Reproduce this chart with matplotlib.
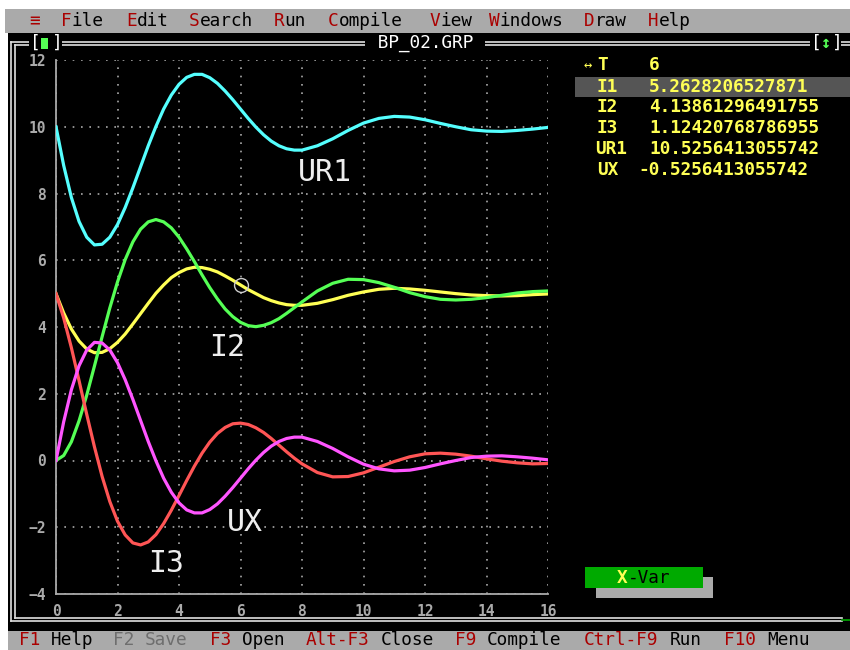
import matplotlib
matplotlib.use("Agg")
import matplotlib.pyplot as plt
from matplotlib.patches import Rectangle

# transient of the R1 / L || C network, sampled every 0.25 s up to 8 s, then every 0.5 s
t = [0.0, 0.25, 0.5, 0.75, 1.0, 1.25, 1.5, 1.75, 2.0, 2.25, 2.5, 2.75, 3.0,
     3.25, 3.5, 3.75, 4.0, 4.25, 4.5, 4.75, 5.0, 5.25, 5.5, 5.75, 6.0, 6.25,
     6.5, 6.75, 7.0, 7.25, 7.5, 7.75, 8.0, 8.5, 9.0, 9.5, 10.0, 10.5, 11.0,
     11.5, 12.0, 12.5, 13.0, 13.5, 14.0, 14.5, 15.0, 15.5, 16.0]

I1 = [5.00, 4.42, 3.94, 3.58, 3.34, 3.23, 3.24, 3.35, 3.54, 3.79, 4.09, 4.40,
      4.71, 5.01, 5.26, 5.48, 5.63, 5.74, 5.79, 5.78, 5.73, 5.65, 5.53, 5.40,
      5.26, 5.12, 5.00, 4.88, 4.79, 4.72, 4.67, 4.65, 4.65, 4.71, 4.82, 4.95,
      5.05, 5.13, 5.16, 5.14, 5.10, 5.05, 5.00, 4.96, 4.94, 4.93, 4.94, 4.97, 4.99]

I2 = [0.00, 0.15, 0.56, 1.19, 1.96, 2.83, 3.71, 4.57, 5.35, 6.02, 6.55, 6.93,
      7.15, 7.22, 7.15, 6.97, 6.69, 6.34, 5.96, 5.56, 5.18, 4.84, 4.54, 4.31,
      4.14, 4.04, 4.01, 4.05, 4.13, 4.25, 4.41, 4.58, 4.75, 5.08, 5.31, 5.43,
      5.42, 5.33, 5.19, 5.03, 4.91, 4.83, 4.81, 4.83, 4.88, 4.95, 5.02, 5.06, 5.08]

I3 = [5.00, 4.27, 3.38, 2.39, 1.38, 0.41, -0.48, -1.23, -1.82, -2.23, -2.47,
      -2.53, -2.44, -2.22, -1.89, -1.49, -1.05, -0.60, -0.17, 0.22, 0.55, 0.81,
      0.99, 1.10, 1.12, 1.08, 0.98, 0.84, 0.66, 0.46, 0.26, 0.07, -0.10, -0.36,
      -0.49, -0.48, -0.37, -0.20, -0.03, 0.11, 0.20, 0.22, 0.19, 0.13, 0.05,
      -0.02, -0.07, -0.10, -0.09]

UR1 = [10.00, 8.84, 7.88, 7.16, 6.69, 6.46, 6.48, 6.69, 7.07, 7.58, 8.17, 8.80,
       9.43, 10.01, 10.53, 10.95, 11.27, 11.48, 11.57, 11.57, 11.47, 11.30,
       11.07, 10.81, 10.53, 10.25, 9.99, 9.76, 9.57, 9.43, 9.34, 9.30, 9.30,
       9.43, 9.64, 9.89, 10.11, 10.25, 10.31, 10.29, 10.21, 10.10, 10.00, 9.91,
       9.87, 9.86, 9.89, 9.93, 9.98]

UX = [0.00, 1.16, 2.12, 2.84, 3.31, 3.54, 3.52, 3.31, 2.93, 2.42, 1.83, 1.20,
      0.57, -0.01, -0.53, -0.95, -1.27, -1.48, -1.57, -1.57, -1.47, -1.30, -1.07,
      -0.81, -0.53, -0.25, 0.01, 0.24, 0.43, 0.57, 0.66, 0.70, 0.70, 0.57, 0.36,
      0.11, -0.11, -0.25, -0.31, -0.29, -0.21, -0.10, 0.00, 0.09, 0.13, 0.14,
      0.11, 0.07, 0.02]

# cursor readout
cursor_t = 6
cursor_names = ["I1", "I2", "I3", "UR1", "UX"]
cursor_vals = ["5.2628206527871", "4.13861296491755", "1.12420768786955",
               "10.5256413055742", "-0.5256413055742"]

menu_items = ["File", "Edit", "Search", "Run", "Compile", "View", "Windows", "Draw", "Help"]
menu_x = [61, 126, 189, 274, 328, 430, 489, 584, 648]
status_keys = ["F1", "F2", "F3", "Alt-F3", "F9", "Ctrl-F9", "F10"]
status_words = ["Help", "Save", "Open", "Close", "Compile", "Run", "Menu"]
status_x = [19, 113, 210, 306, 455, 584, 724]

MONO = ["DejaVu Sans Mono", "DejaVu Sans"]
RED = "#aa0000"
GRAY = "#aaaaaa"
FRAME = "#e0e0e0"
CW = 10.75  # character cell width in pixels

W, H = 850, 650
fig = plt.figure(figsize=(8.5, 6.5), dpi=100, facecolor="white")

# screen layer in pixel coordinates
scr = fig.add_axes([0, 0, 1, 1])
scr.set_xlim(0, W)
scr.set_ylim(H, 0)
scr.axis("off")


def box(x0, y0, x1, y1, color, z=1):
    scr.add_patch(Rectangle((x0, y0), x1 - x0, y1 - y0, facecolor=color,
                            edgecolor="none", zorder=z))


def txt(x, y, s, color, size=12.8, ha="left", bg=None, weight="normal"):
    kw = {}
    if bg:
        kw["bbox"] = dict(facecolor=bg, edgecolor="none", pad=1)
    scr.text(x, y, s, color=color, fontsize=size, ha=ha, va="center",
             family=MONO, weight=weight, zorder=5, **kw)


# menu bar
box(5, 9, W, 33, GRAY)
txt(29, 21, "\u2261", RED)
for word, x in zip(menu_items, menu_x):
    txt(x, 21, word[0], RED)
    txt(x + CW, 21, word[1:], "black")

# window and its double frame
box(8, 33, W, 631, "black")
for y, x0 in [(42, 11), (45, 15)]:
    scr.plot([x0, W], [y, y], color=FRAME, lw=1.2, zorder=2)
for y, x0 in [(621, 11), (618, 15)]:
    scr.plot([x0, 842], [y, y], color=FRAME, lw=1.2, zorder=2)
scr.plot([842, W], [620, 620], color="#00aa00", lw=1.2, zorder=2)
scr.plot([11, 11], [42, 621], color=FRAME, lw=1.2, zorder=2)
scr.plot([15, 15], [45, 618], color=FRAME, lw=1.2, zorder=2)

txt(425, 43, " BP_02.GRP ", "white", ha="center", bg="black")

# close box and zoom box
box(29, 36, 62, 50, "black", z=4)
txt(30, 43, "[", "white")
txt(52, 43, "]", "white")
box(41, 38, 48, 49, "#55ff55", z=6)
box(810, 36, 841, 50, "black", z=4)
txt(811, 43, "[", "white")
txt(832, 43, "]", "white")
scr.text(826, 43, "\u2195", color="#55ff55", fontsize=12, ha="center",
         va="center", family=MONO, weight="bold", zorder=6)

# readout panel
YEL = "#ffff55"
box(575, 76.5, W, 97, "#555555", z=2)
txt(584, 65, "\u2194", YEL, size=10)
txt(597, 65, "T", YEL, weight="bold")
txt(649, 65, str(cursor_t), YEL, weight="bold")
for i, (name, val) in enumerate(zip(cursor_names, cursor_vals)):
    y = 86.5 + 20.8 * i
    nx = 595 if len(name) == 3 else 597
    txt(nx, y, name, YEL, weight="bold")
    txt(649 if not val.startswith("-") else 638.5, y, val, YEL, weight="bold")

# X-Var button
box(596, 577, 713, 598, GRAY, z=2)
box(585, 567, 703, 588, "#00aa00", z=3)
txt(617, 578, "X", YEL, weight="bold")
txt(627.5, 578, "-Var", "black")

# status line
box(8, 631, W, H, GRAY)
for key, word, x in zip(status_keys, status_words, status_x):
    kc, wc = (RED, "black") if key != "F2" else ("#6e6e6e", "#6e6e6e")
    txt(x, 640, key, kc)
    txt(x + CW * (len(key) + 1), 640, word, wc)

# graph
ax = fig.add_axes([56 / W, (H - 594) / H, (548 - 56) / W, (594 - 60) / H])
ax.set_facecolor("black")
ax.set_xlim(0, 16)
ax.set_ylim(-4, 12)
ax.set_xticks(range(0, 17, 2))
ax.set_yticks(range(-4, 13, 2))
ax.grid(True, color=GRAY, ls=(0, (1, 4)), lw=1.2)
for side in ["top", "right"]:
    ax.spines[side].set_visible(False)
for side in ["left", "bottom"]:
    ax.spines[side].set_color(GRAY)
    ax.spines[side].set_linewidth(1.3)
ax.tick_params(length=0, colors=GRAY, labelsize=10.5, pad=7)
for lab in ax.get_xticklabels() + ax.get_yticklabels():
    lab.set_family(MONO)
    lab.set_weight("bold")

ax.plot(t, I1, color="#ffff55", lw=2.3, zorder=3)
ax.plot(t, I2, color="#55ff55", lw=2.3, zorder=3)
ax.plot(t, I3, color="#ff5555", lw=2.3, zorder=3)
ax.plot(t, UR1, color="#55ffff", lw=2.3, zorder=3)
ax.plot(t, UX, color="#ff55ff", lw=2.3, zorder=3)

ax.plot(cursor_t, float(cursor_vals[0]), "o", ms=10, mfc="none", mec="#cccccc",
        mew=1.0, zorder=4)

for name, (x, y) in {"UR1": (8.75, 8.63), "I2": (5.56, 3.38),
                     "UX": (6.15, -1.85), "I3": (3.58, -3.10)}.items():
    ax.text(x, y, name, color="#eeeeee", fontsize=21.5, ha="center",
            va="center", family=MONO)

fig.savefig("out.png", dpi=100, facecolor="white")
